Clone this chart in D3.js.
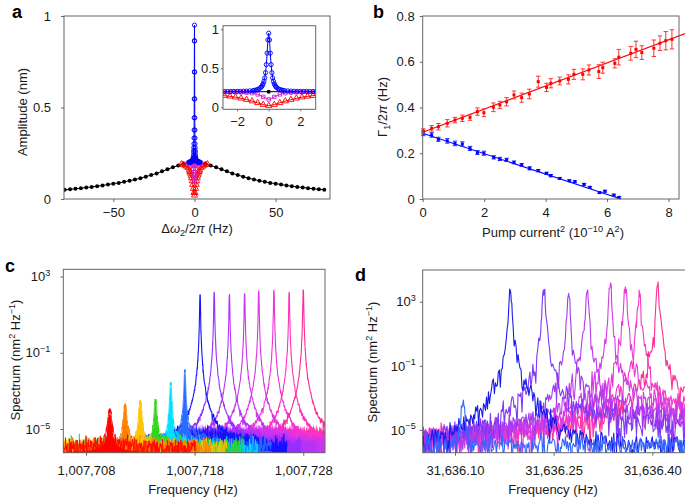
<!DOCTYPE html>
<html><head><meta charset="utf-8">
<script src="https://cdn.jsdelivr.net/npm/d3@7"></script>
<style>
html,body{margin:0;padding:0;background:#fff;}
svg{display:block;font-family:"Liberation Sans",Arial,Helvetica,sans-serif;}
</style></head><body>
<svg id="fig" width="685" height="498"></svg>
<script>
// ---------------- Panel a data ----------------
const blackX = [-80,-76.67,-73.33,-70,-66.67,-63.33,-60,-56.67,-53.33,-50,-46.67,-43.33,-40,-36.67,-33.33,-30,-26.67,-23.33,-20,-16.67,-13.33,-10,-6.67,-3.33,0,3.33,6.67,10,13.33,16.67,20,23.33,26.67,30,33.33,36.67,40,43.33,46.67,50,53.33,56.67,60,63.33,66.67,70,73.33,76.67,80];
const blackY = [0.050,0.053,0.056,0.059,0.063,0.066,0.070,0.074,0.079,0.084,0.088,0.094,0.100,0.106,0.114,0.122,0.131,0.140,0.151,0.162,0.173,0.183,0.192,0.198,0.200,0.198,0.192,0.183,0.173,0.162,0.151,0.140,0.131,0.122,0.114,0.106,0.100,0.094,0.088,0.084,0.079,0.074,0.070,0.066,0.063,0.059,0.056,0.053,0.050];
const redX = [-8,-7,-6,-5,-4,-3.2,-2.8,-2.45,-2.1,-1.75,-1.4,-1.05,-0.7,-0.35,0,0.35,0.7,1.05,1.4,1.75,2.1,2.45,2.8,3.2,4,5,6,7,8];
const redY = [0.191,0.188,0.184,0.178,0.170,0.157,0.149,0.140,0.129,0.115,0.098,0.079,0.057,0.034,0.020,0.034,0.057,0.079,0.098,0.115,0.129,0.140,0.149,0.157,0.170,0.178,0.184,0.188,0.191];
const magX = [-4,-3.2,-2.8,-2.45,-2.1,-1.75,-1.4,-1.05,-0.7,-0.35,0,0.35,0.7,1.05,1.4,1.75,2.1,2.45,2.8,3.2,4];
const magY = [0.198,0.197,0.197,0.196,0.194,0.192,0.188,0.181,0.165,0.133,0.100,0.133,0.165,0.181,0.188,0.192,0.194,0.196,0.197,0.197,0.198];
const blueX = [-3.4,-3.2,-3.0,-2.8,-2.6,-2.4,-2.2,-2.0,-1.8,-1.6,-1.4,-1.2,-1.0,-0.9,-0.8,-0.7,-0.6,-0.5,-0.45,-0.4,-0.35,-0.3,-0.25,-0.2,-0.15,-0.1,-0.05,0,0.05,0.1,0.15,0.2,0.25,0.3,0.35,0.4,0.45,0.5,0.6,0.7,0.8,0.9,1.0,1.2,1.4,1.6,1.8,2.0,2.2,2.4,2.6,2.8,3.0,3.2,3.4];
const blueY = [0.201,0.201,0.2015,0.202,0.202,0.2025,0.203,0.204,0.204,0.206,0.207,0.210,0.214,0.217,0.222,0.228,0.238,0.254,0.265,0.281,0.302,0.333,0.377,0.444,0.547,0.694,0.864,0.950,0.864,0.694,0.547,0.444,0.377,0.333,0.302,0.281,0.265,0.254,0.238,0.228,0.222,0.217,0.214,0.210,0.207,0.206,0.204,0.204,0.203,0.2025,0.202,0.202,0.2015,0.201,0.201];
const aXTicks = [-50,0,50], aYTicks = [0,0.5,1];
const insetXTicks = [-2,0,2], insetYTicks = [0,0.5,1];

// ---------------- Panel b data ----------------
const bRedX = [0.02,0.29,0.51,0.80,1.05,1.29,1.54,1.78,1.99,2.30,2.51,2.73,2.97,3.22,3.47,3.76,4.03,4.17,4.46,4.74,4.92,5.21,5.41,5.73,5.86,6.25,6.38,6.77,6.94,7.13,7.52,7.72,7.91,8.11];
const bRedY = [0.297,0.309,0.316,0.331,0.345,0.353,0.357,0.382,0.377,0.401,0.411,0.425,0.455,0.443,0.459,0.513,0.488,0.506,0.516,0.523,0.545,0.545,0.564,0.557,0.574,0.593,0.620,0.637,0.654,0.640,0.659,0.681,0.692,0.698];
const bRedErr = [0.010,0.012,0.014,0.016,0.012,0.014,0.013,0.016,0.017,0.019,0.016,0.018,0.017,0.020,0.021,0.024,0.018,0.020,0.017,0.020,0.022,0.024,0.022,0.030,0.024,0.020,0.034,0.030,0.036,0.030,0.036,0.032,0.040,0.042];
const bBlueX = [0.02,0.29,0.51,0.80,1.05,1.29,1.54,1.78,1.99,2.31,2.51,2.73,2.97,3.22,3.48,3.76,4.03,4.17,4.46,4.77,4.95,5.25,5.44,5.75,5.93,6.22,6.39];
const bBlueY = [0.287,0.280,0.261,0.254,0.243,0.240,0.221,0.203,0.200,0.182,0.175,0.171,0.160,0.149,0.134,0.124,0.112,0.102,0.090,0.080,0.076,0.064,0.051,0.028,0.034,0.017,0.007];
const bBlueErr = [0.010,0.010,0.009,0.010,0.010,0.010,0.009,0.009,0.009,0.007,0.007,0.007,0.006,0.006,0.007,0.005,0.005,0.005,0.004,0.004,0.004,0.004,0.004,0.004,0.004,0.004,0.004];
const bRedFitX = [0, 8.55], bRedFitY = [0.292, 0.724];
const bBlueFitX = [0, 6.45], bBlueFitY = [0.287, 0];
const bXTicks = [0,2,4,6,8], bYTicks = [0,0.2,0.4,0.6,0.8];

// ---------------- Panel c data (peaks) ----------------
const cCenters = [1007710.2,1007711.6,1007713.0,1007714.4,1007715.8,1007717.1,1007718.5,1007719.8,1007721.2,1007722.6,1007723.9,1007725.3,1007726.7,1007728.0];
const cPeakLog = [-4.0,-3.74,-3.57,-3.48,-2.57,-1.9,2.03,2.17,2.03,2.1,2.24,2.24,2.17,2.31];
const cWidth = [0.13,0.11,0.10,0.09,0.065,0.05,0.0295,0.0295,0.0295,0.0295,0.0295,0.0295,0.0295,0.0295];
const cPow = [3.5,3.5,3.5,3.5,3.5,3.5,4,4,4,4,4,4,4,4];
const cHumpLog = [-5.6,-5.6,-5.6,-5.6,-5.4,-5.1,-5.0,-5.1,-5.1,-5.1,-5.1,-5.1,-5.1,-5.1];
const cHumpW = [0.6,0.6,0.6,0.6,0.8,1.2,1.8,1.8,1.8,1.8,1.8,1.8,1.8,1.8];
const cColors = ["#ff0000","#ff8000","#ffc400","#33d61a","#00e0ff","#2a6cff","#1212ff","#9430ff","#b433f7","#c934ef","#dc33e6","#ee33d6","#ff33bd","#ff2a95"];
const cFloorLog = -6.0;
const cXTicks = [1007708,1007718,1007728], cYTicks = [1e3,1e-1,1e-5];

// ---------------- Panel d data (peaks) ----------------
const dCenters = [31636.112,31636.184,31636.235,31636.273,31636.301,31636.336,31636.359,31636.380,31636.408];
const dPeakLog = [-3.4,3.56,3.73,3.52,3.56,3.93,3.93,3.73,4.04];
const dWidth = [0.0025,0.0016,0.0016,0.0016,0.0016,0.0016,0.0016,0.0016,0.0016];
const dShoulderLog = [-9,-9,-3.4,-3.3,-3.2,-3.0,-3.0,-3.0,-2.8];
const dColors = ["#3366ff","#1a1aee","#7f38f5","#a23af2","#bb3aee","#d43ae6","#e63ad8","#f534c4","#ff2f90"];
const dFloorLog = -5.95;
const dXTicks = [31636.10,31636.25,31636.40], dYTicks = [1e3,1e-1,1e-5];

// ---------------- helpers ----------------
const FONT = '"Liberation Sans",Arial,Helvetica,sans-serif';
const AXC = "#666";
const svg = d3.select("#fig");
const defs = svg.append("defs");
function clip(id,x,y,w,h){ defs.append("clipPath").attr("id",id).append("rect").attr("x",x).attr("y",y).attr("width",w).attr("height",h); return "url(#"+id+")"; }
function hash(k,s){ const v=Math.sin(k*12.9898+s*78.233)*43758.5453; return v-Math.floor(v); }
// log10 of an exponential variate: spectral-estimate texture
function texture(k,s){ const u=Math.min(0.9995,Math.max(0.0005,hash(k,s))); return Math.log10(-Math.log(u))+0.16; }
function rich(sel, parts, fs){
  let shift=0;
  parts.forEach(p=>{
    const ts=sel.append("tspan").text(p.t);
    let target=0,size=fs;
    if(p.s==="sup"){target=-0.4*fs;size=fs*0.7;}
    if(p.s==="sub"){target=0.25*fs;size=fs*0.7;}
    ts.attr("font-size",size);
    if(target!==shift){ts.attr("dy",target-shift);shift=target;}
    if(p.i) ts.attr("font-style","italic");
  });
}
function styleAxis(g,fs){
  g.attr("font-size",fs).attr("font-family",FONT);
  g.select(".domain").remove();
  g.selectAll(".tick line").attr("stroke",AXC);
  g.selectAll(".tick text").attr("fill","#1a1a1a");
}
const minus = d => (d<0?"\u2212":"")+Math.abs(d);
function frame(x0,y0,x1,y1){ svg.append("rect").attr("x",x0).attr("y",y0).attr("width",x1-x0).attr("height",y1-y0).attr("fill","none").attr("stroke",AXC).attr("stroke-width",1); }
function label(x,y,parts,fs,rot){
  const t=svg.append("text").attr("font-size",fs).attr("text-anchor","middle").attr("fill","#1a1a1a");
  if(rot) t.attr("transform",`translate(${x},${y}) rotate(-90)`); else t.attr("x",x).attr("y",y);
  rich(t,parts,fs);
}
function panelLetter(x,y,s){ svg.append("text").attr("x",x).attr("y",y).attr("font-size",18).attr("font-weight","bold").text(s); }
function logTicks(g){
  g.selectAll(".tick text").each(function(d){
    const e=Math.round(Math.log10(d)); const t=d3.select(this); t.text(null);
    rich(t,[{t:"10"},{t:(e<0?"\u2212"+(-e):""+e),s:"sup"}],13);
  });
}

// ================= Panel a =================
const aX = d3.scaleLinear().domain([-80.4,83.5]).range([64,330]);
const aY = d3.scaleLinear().domain([0,1]).range([199,16]);
const aClip = clip("ca",64,16,266,183);
function drawA(g,X,Y,r){
  const line=(xs,ys)=>d3.line().x((d,i)=>X(xs[i])).y((d,i)=>Y(ys[i]))(xs);
  g.append("path").attr("d",line(blackX,blackY)).attr("fill","none").attr("stroke","#000").attr("stroke-width",1);
  g.selectAll(null).data(blackX).join("circle").attr("cx",d=>X(d)).attr("cy",(d,i)=>Y(blackY[i])).attr("r",2*r).attr("fill","#000");
  g.append("path").attr("d",line(redX,redY)).attr("fill","none").attr("stroke","#ff0000").attr("stroke-width",1);
  g.selectAll(null).data(redX).join("path").attr("d",d3.symbol(d3.symbolTriangle,16*r*r)).attr("transform",(d,i)=>`translate(${X(d)},${Y(redY[i])})`).attr("fill","none").attr("stroke","#ff0000").attr("stroke-width",0.9);
  g.append("path").attr("d",line(magX,magY)).attr("fill","none").attr("stroke","#cc22cc").attr("stroke-width",1);
  g.selectAll(null).data(magX).join("path").attr("d",d3.symbol(d3.symbolSquare,12*r*r)).attr("transform",(d,i)=>`translate(${X(d)},${Y(magY[i])})`).attr("fill","none").attr("stroke","#cc22cc").attr("stroke-width",0.9);
  g.append("path").attr("d",line(blueX,blueY)).attr("fill","none").attr("stroke","#0000ff").attr("stroke-width",1);
  g.selectAll(null).data(blueX).join("circle").attr("cx",d=>X(d)).attr("cy",(d,i)=>Y(blueY[i])).attr("r",2.1*r).attr("fill","none").attr("stroke","#0000ff").attr("stroke-width",0.9);
}
drawA(svg.append("g").attr("clip-path",aClip),aX,aY,1);
frame(64,16,330,199);
styleAxis(svg.append("g").attr("transform","translate(0,199)").call(d3.axisBottom(aX).tickValues(aXTicks).tickSize(3).tickPadding(6).tickFormat(minus)),13);
styleAxis(svg.append("g").attr("transform","translate(64,0)").call(d3.axisLeft(aY).tickValues(aYTicks).tickSize(3).tickPadding(10).tickFormat(d=>d===0.5?"0.5":String(d))),13);
const iX = d3.scaleLinear().domain([-2.89,2.97]).range([223,315.7]);
const iY = d3.scaleLinear().domain([-0.026,1.046]).range([109.3,25.7]);
svg.append("rect").attr("x",223).attr("y",25.7).attr("width",92.7).attr("height",83.6).attr("fill","#fff");
drawA(svg.append("g").attr("clip-path",clip("ci",223,25.7,92.7,83.6)),iX,iY,1);
frame(223,25.7,315.7,109.3);
styleAxis(svg.append("g").attr("transform","translate(0,109.3)").call(d3.axisBottom(iX).tickValues(insetXTicks).tickSize(2).tickPadding(5).tickFormat(minus)),13);
styleAxis(svg.append("g").attr("transform","translate(223,0)").call(d3.axisLeft(iY).tickValues(insetYTicks).tickSize(2).tickPadding(2).tickFormat(d=>d===0.5?"0.5":String(d))),13);
label(27,112,[{t:"Amplitude (nm)"}],13,true);
label(197,233,[{t:"\u0394"},{t:"\u03c9",i:true},{t:"2",s:"sub"},{t:"/2"},{t:"\u03c0",i:true},{t:" (Hz)"}],13,false);
panelLetter(12,18,"a");

// ================= Panel b =================
const bX = d3.scaleLinear().domain([0,8.34]).range([422.7,679]);
const bY = d3.scaleLinear().domain([0,0.8]).range([199,16]);
const gb = svg.append("g");
function drawB(xs,ys,es,fx,fy,col,ecol){
  gb.append("path").attr("d",d3.line().x((d,i)=>bX(fx[i])).y((d,i)=>bY(fy[i]))(fx)).attr("stroke",col).attr("stroke-width",1.1).attr("fill","none");
  const eg=gb.append("g").attr("stroke",ecol).attr("stroke-width",1);
  xs.forEach((x,i)=>{
    const cx=bX(x), y0=bY(ys[i]-es[i]), y1=bY(ys[i]+es[i]);
    eg.append("line").attr("x1",cx).attr("x2",cx).attr("y1",y0).attr("y2",y1);
    eg.append("line").attr("x1",cx-2.2).attr("x2",cx+2.2).attr("y1",y0).attr("y2",y0);
    eg.append("line").attr("x1",cx-2.2).attr("x2",cx+2.2).attr("y1",y1).attr("y2",y1);
  });
  gb.selectAll(null).data(xs).join("rect").attr("x",d=>bX(d)-1.5).attr("y",(d,i)=>bY(ys[i])-1.5).attr("width",3).attr("height",3).attr("fill",col);
}
drawB(bBlueX,bBlueY,bBlueErr,bBlueFitX,bBlueFitY,"#0000ff","#2233ff");
drawB(bRedX,bRedY,bRedErr,bRedFitX,bRedFitY,"#ff0000","#ff3333");
frame(422.7,16,679,199);
styleAxis(svg.append("g").attr("transform","translate(0,199)").call(d3.axisBottom(bX).tickValues(bXTicks).tickSize(3).tickPadding(6).tickFormat(d3.format("d"))),13);
styleAxis(svg.append("g").attr("transform","translate(422.7,0)").call(d3.axisLeft(bY).tickValues(bYTicks).tickSize(3).tickPadding(5).tickFormat(d=>d===0?"0":d3.format(".1f")(d))),13);
label(387,107,[{t:"\u0393"},{t:"1",s:"sub"},{t:"/2"},{t:"\u03c0",i:true},{t:" (Hz)"}],13,true);
label(553,237,[{t:"Pump current"},{t:"2",s:"sup"},{t:" (10"},{t:"\u221210",s:"sup"},{t:" A"},{t:"2",s:"sup"},{t:")"}],13,false);
panelLetter(373,18,"b");

// ================= Panel c =================
const cX = d3.scaleLinear().domain([1007705.91,1007730.0]).range([63.3,325]);
const cY = d3.scaleLog().domain([10**-6.24,10**3.38]).range([452.7,269.3]);
const gc = svg.append("g").attr("clip-path",clip("cc",63.3,269.3,261.7,183.4));
function envC(i,f){
  const d=Math.abs(f-cCenters[i]);
  return 10**cFloorLog + 10**cPeakLog[i]/(1+Math.pow(d/cWidth[i],cPow[i])) + 10**cHumpLog[i]/(1+(d/cHumpW[i])**2);
}
function specC(i){
  const f0=cCenters[i], lo=Math.max(cX.domain()[0]-0.1,f0-8), hi=Math.min(cX.domain()[1]+0.1,f0+8);
  const fs=[];
  for(let f=lo;f<=hi;f+=0.03) if(Math.abs(f-f0)>0.3) fs.push({f});
  for(let f=f0-0.3;f<=f0+0.3;f+=0.008) fs.push({f});
  fs.push({f:f0,tip:true});
  fs.sort((a,b)=>a.f-b.f);
  return fs.map((o,k)=>{
    const S=envC(i,o.f), L=Math.log10(S);
    const amp=0.1+0.62*Math.exp(-(L-cFloorLog)/0.7);
    const n = o.tip?0:amp*texture(k,i+1);
    const capL = -5.0 + 0.35*texture(k+3000,i+1);   // ragged top of the dense skirt
    return {f:o.f, v:10**(L+n), e:S, cap:10**capL};
  });
}
for(let i=cCenters.length-1;i>=0;i--){
  const pts=specC(i);
  const strong = cPeakLog[i]>0;
  gc.append("path").attr("d",d3.area().x(d=>cX(d.f)).y0(452.7).y1(d=>cY(strong?Math.min(d.v,d.cap):d.e*0.6))(pts)).attr("fill",cColors[i]);
  gc.append("path").attr("d",d3.line().x(d=>cX(d.f)).y(d=>cY(d.v))(pts)).attr("fill","none").attr("stroke",cColors[i]).attr("stroke-width",strong?1.1:0.8);
}
frame(63.3,269.3,325,452.7);
{
  const g=svg.append("g").attr("transform","translate(0,452.7)").call(d3.axisBottom(cX).tickValues(cXTicks).tickSize(3).tickPadding(10).tickFormat(d3.format(",")));
  styleAxis(g,13);
  const gy=svg.append("g").attr("transform","translate(63.3,0)").call(d3.axisLeft(cY).tickValues(cYTicks).tickSize(3).tickPadding(10));
  styleAxis(gy,13); logTicks(gy);
}
label(20,360,[{t:"Spectrum (nm"},{t:"2",s:"sup"},{t:" Hz"},{t:"\u22121",s:"sup"},{t:")"}],13,true);
label(193,494,[{t:"Frequency (Hz)"}],13,false);
panelLetter(5,272,"c");

// ================= Panel d =================
const dX = d3.scaleLinear().domain([31636.0509,31636.4497]).range([422.7,685]);
const dY = d3.scaleLog().domain([10**-6.42,10**4.98]).range([452.7,270]);
const gd = svg.append("g").attr("clip-path",clip("cd",422.7,270,263,182.7));
function specD(i){
  const f0=dCenters[i], fs=[];
  for(let f=dX.domain()[0]-0.002;f<=dX.domain()[1]+0.002;f+=0.0015) if(Math.abs(f-f0)>0.004) fs.push({f,fine:false});
  for(let f=f0-0.004;f<=f0+0.004;f+=0.0008) fs.push({f,fine:true});
  fs.push({f:f0,fine:true,tip:true});
  fs.sort((a,b)=>a.f-b.f);
  return fs.map((o,k)=>{
    const dd=o.f-f0, d=Math.abs(dd);
    const sw = dd>0?0.05:0.015;
    const S=10**dFloorLog + 10**dPeakLog[i]/(1+Math.pow(d/dWidth[i],5)) + 10**dShoulderLog[i]/(1+(d/sw)**2);
    const n = o.tip?0:(o.fine? 0.45*texture(k,i+31) : 0.85*texture(k,i+31));
    return {f:o.f, v:10**(Math.log10(S)+n)};
  });
}
for(let i=dCenters.length-1;i>=0;i--){
  const pts=specD(i);
  gd.append("path").attr("d",d3.line().x(d=>dX(d.f)).y(d=>dY(d.v))(pts)).attr("fill","none").attr("stroke",dColors[i]).attr("stroke-width",1.1).attr("stroke-linejoin","round");
}
frame(422.7,270,700,452.7);
{
  const g=svg.append("g").attr("transform","translate(0,452.7)").call(d3.axisBottom(dX).tickValues(dXTicks).tickSize(3).tickPadding(10).tickFormat(d3.format(",.2f")));
  styleAxis(g,13);
  const gy=svg.append("g").attr("transform","translate(422.7,0)").call(d3.axisLeft(dY).tickValues(dYTicks).tickSize(3).tickPadding(4));
  styleAxis(gy,13); logTicks(gy);
}
label(377,362,[{t:"Spectrum (nm"},{t:"2",s:"sup"},{t:" Hz"},{t:"\u22121",s:"sup"},{t:")"}],13,true);
label(553,494,[{t:"Frequency (Hz)"}],13,false);
panelLetter(355,281,"d");
</script></body></html>
